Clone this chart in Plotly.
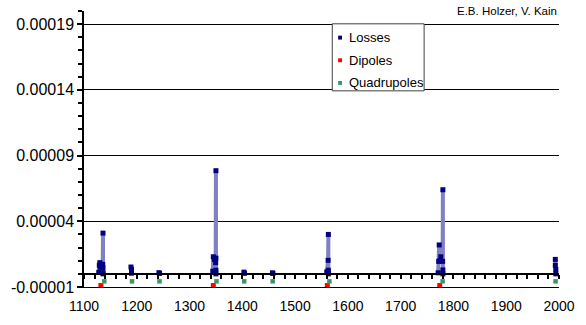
import plotly.graph_objects as go

# Beam loss readings per monitor position, grouped by location (None splits groups)
loss_x = [1128, 1129, 1130, 1131, 1135.5, 1136, 1136, 1136, 1136, None,
          1189, 1190, 1190, None,
          1242, 1243, None,
          1344, 1345, 1347, 1349.5, 1350, 1350, 1350, 1350, None,
          1403, 1404, None,
          1457, 1458, None,
          1560, 1562.5, 1563, 1563, 1563, None,
          1771, 1772, 1773, 1774, 1776, 1779.5, 1780, 1780, 1780, None,
          1993, 1993, 1994, 1994]
loss_y = [0.0000012, 0.0000065, 0.0000085, 0.0000050, 0.0000072, 0.0000310, 0.0000045, 0.0000008, 0.0, None,
          0.0000052, 0.0000035, 0.0000005, None,
          0.0000009, 0.0000003, None,
          0.0000020, 0.0000130, 0.0000110, 0.0000085, 0.0000785, 0.0000120, 0.0000028, 0.0, None,
          0.0000013, 0.0000004, None,
          0.0000008, 0.0000003, None,
          0.0000015, 0.0000103, 0.0000300, 0.0000028, 0.0, None,
          0.0000008, 0.0000095, 0.0000220, 0.0000100, 0.0000130, 0.0000095, 0.0000640, 0.0000030, 0.0, None,
          0.0000110, 0.0000065, 0.0000033, 0.0]

# Magnet positions, drawn as markers just below the zero line
dipole_x = [1132, 1345, 1561, 1774]
dipole_y = [-0.0000089, -0.0000089, -0.0000089, -0.0000089]

quad_x = [1138.5, 1191, 1243, 1351, 1403.5, 1457.5, 1565, 1779.5, 1993.5]
quad_y = [-0.0000057] * len(quad_x)

x_tick_vals = [1100, 1200, 1300, 1400, 1500, 1600, 1700, 1800, 1900, 2000]
x_tick_text = ["1100", "1200", "1300", "1400", "1500", "1600", "1700", "1800", "1900", "2000"]
y_tick_vals = [-0.00001, 0.00004, 0.00009, 0.00014, 0.00019]
y_tick_text = ["-0.00001", "0.00004", "0.00009", "0.00014", "0.00019"]

series_names = ["Losses", "Dipoles", "Quadrupoles"]
series_colors = ["#000080", "#ff0000", "#339966"]

FONT = "Liberation Sans, Arial, sans-serif"

fig = go.Figure()

# Loss columns
fig.add_trace(go.Scatter(
    x=loss_x, y=loss_y, mode="lines", connectgaps=False,
    line=dict(color="#8080c4", width=4),
    showlegend=False, hoverinfo="skip",
))
fig.add_trace(go.Scatter(
    x=loss_x, y=loss_y, mode="markers", name=series_names[0], showlegend=False,
    marker=dict(symbol="square", color=series_colors[0], size=5),
))
fig.add_trace(go.Scatter(
    x=dipole_x, y=dipole_y, mode="markers", name=series_names[1], showlegend=False,
    marker=dict(symbol="square", color=series_colors[1], size=5),
))
fig.add_trace(go.Scatter(
    x=quad_x, y=quad_y, mode="markers", name=series_names[2], showlegend=False,
    marker=dict(symbol="square", color=series_colors[2], size=4.5),
))
# carrier for the zero-level axis with the minor ticks
fig.add_trace(go.Scatter(
    x=[1100, 2000], y=[0, 0], mode="lines", xaxis="x2",
    line=dict(color="rgba(0,0,0,0)"), showlegend=False, hoverinfo="skip",
))

y_min, y_max = -0.00001, 0.0002
zero_pos = (0 - y_min) / (y_max - y_min)

# Boxed key in the upper middle of the plot area (paper coordinates)
W_PLOT, H_PLOT = 486.0, 280.0
def px_x(p):
    return (p - 83) / W_PLOT
def px_y(p):
    return (291 - p) / H_PLOT

shapes = [dict(type="rect", xref="paper", yref="paper",
               x0=px_x(337), x1=px_x(431), y0=px_y(92), y1=px_y(24),
               fillcolor="white", line=dict(color="#404040", width=1), layer="above")]
annotations = [dict(
    text="E.B. Holzer, V. Kain", xref="paper", yref="paper",
    x=1.0, y=1.0, xanchor="right", yanchor="middle",
    showarrow=False, font=dict(family=FONT, size=11.5, color="black"),
)]
for i, (name, col) in enumerate(zip(series_names, series_colors)):
    yc = 38 + i * 23
    shapes.append(dict(type="rect", xref="paper", yref="paper",
                       x0=px_x(343), x1=px_x(347), y0=px_y(yc + 2), y1=px_y(yc - 2),
                       fillcolor=col, line=dict(width=0), layer="above"))
    annotations.append(dict(text=name, xref="paper", yref="paper",
                            x=px_x(352), y=px_y(yc), xanchor="left", yanchor="middle",
                            showarrow=False,
                            font=dict(family=FONT, size=13, color="black")))

fig.update_layout(
    width=586, height=325,
    margin=dict(l=83, r=17, t=11, b=34),
    plot_bgcolor="white", paper_bgcolor="white",
    font=dict(family=FONT, size=14, color="black"),
    showlegend=False,
    xaxis=dict(
        range=[1100, 2000], tickmode="array",
        tickvals=x_tick_vals, ticktext=x_tick_text,
        showline=True, linecolor="black", linewidth=1,
        ticks="outside", ticklen=6, tickcolor="rgba(0,0,0,0)",
        showgrid=False, zeroline=False,
        tickfont=dict(family=FONT, size=14),
    ),
    xaxis2=dict(
        overlaying="x", matches="x", anchor="free", position=zero_pos,
        range=[1100, 2000], tickmode="linear", tick0=1100, dtick=20,
        showline=True, linecolor="black", linewidth=1.5,
        ticks="outside", ticklen=4, tickcolor="black", tickwidth=1.5,
        showticklabels=False, showgrid=False, zeroline=False,
    ),
    yaxis=dict(
        range=[y_min, y_max], tickmode="array",
        tickvals=y_tick_vals, ticktext=y_tick_text,
        showline=True, linecolor="black", linewidth=1.5,
        ticks="outside", ticklen=5, tickcolor="black", tickwidth=1.5,
        showgrid=True, gridcolor="black", gridwidth=1,
        zeroline=False,
        tickfont=dict(family=FONT, size=16),
        minor=dict(tickmode="linear", tick0=-0.00001, dtick=0.00001,
                   ticks="outside", ticklen=4, tickcolor="black",
                   tickwidth=1.5, showgrid=False),
    ),
    shapes=shapes,
    annotations=annotations,
)

fig.write_html("out.html")
